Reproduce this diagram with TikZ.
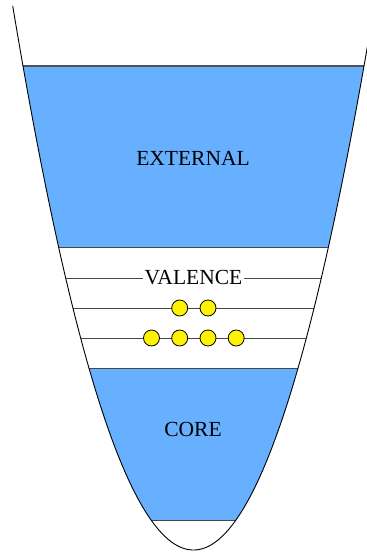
\documentclass[tikz,border=0pt]{standalone}
\usepackage{fontspec}
\setmainfont{Liberation Serif}
\begin{document}
\begin{tikzpicture}[x=1pt,y=-1pt,
  bandfill/.style={fill={rgb,255:red,102;green,176;blue,255}},
  level/.style={draw=black!72,line width=1pt},
  toplevel/.style={draw=black!68,line width=1.8pt},
  wall/.style={draw=black,line width=0.9pt},
  electron/.style={circle,draw=black,line width=0.8pt,fill=yellow,minimum size=16pt,inner sep=0pt},
  label/.style={font=\fontsize{21.5}{24}\selectfont,anchor=base,inner sep=1.5pt}]
\newcommand\py[1]{550-(0.12903*(#1-193.5))^2}
\useasboundingbox (0,0) rectangle (367,552);
\begin{scope}
  \clip (12.7,6) -- plot[domain=12.7:374.3,samples=240] (\x,{\py{\x}}) -- cycle;
  \fill[bandfill] (0,66) rectangle (380,247);
  \fill[bandfill] (0,368) rectangle (380,520);
  \draw[toplevel] (0,66) -- (380,66);
  \draw[level] (0,247) -- (380,247);
  \draw[level] (0,278) -- (380,278);
  \draw[level] (0,308) -- (380,308);
  \draw[level] (0,338) -- (380,338);
  \draw[level] (0,368) -- (380,368);
  \draw[level] (0,520) -- (380,520);
\end{scope}
\draw[wall] plot[domain=12.7:374.3,samples=240] (\x,{\py{\x}});
\node[label] (ext) at (193,165) {EXTERNAL};
\node[label,fill=white] (val) at (193.5,284.7) {VALENCE};
\node[label] (core) at (193,436.7) {CORE};
\node[electron] (e1) at (179.7,308) {};
\node[electron] (e2) at (208,308) {};
\node[electron] (e3) at (151.5,338) {};
\node[electron] (e4) at (179.7,338) {};
\node[electron] (e5) at (208,338) {};
\node[electron] (e6) at (236.2,338) {};
\end{tikzpicture}
\end{document}
